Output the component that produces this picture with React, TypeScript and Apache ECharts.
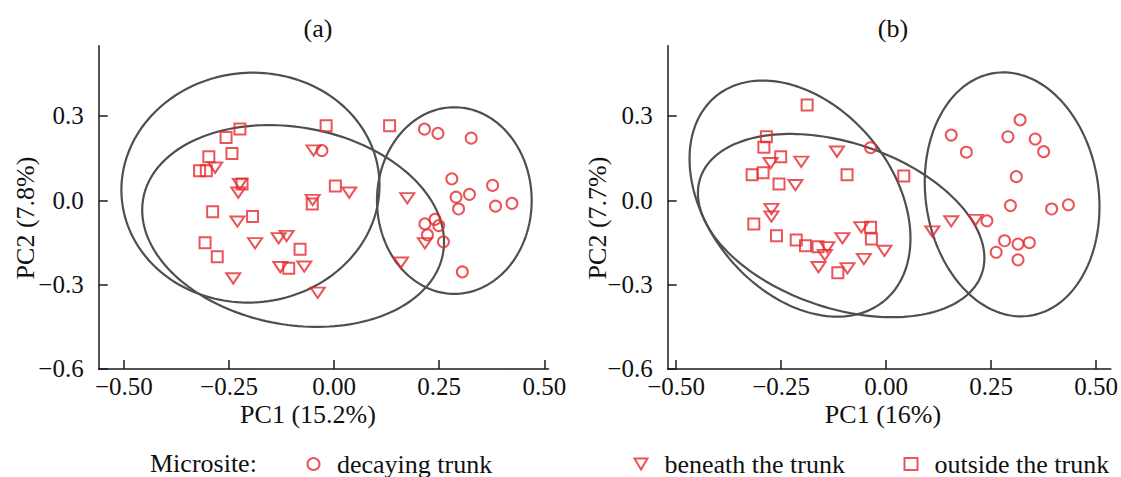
import React, { useEffect, useRef } from 'react';
import * as echarts from 'echarts';

const FONT = 'Liberation Serif';
const RED = '#e42b30';
const ELLIPSE_COLOR = '#4f4f4f';
const TRI_DOWN = 'path://M0,0L14,0L7,12Z';

const seriesNames = ['decaying trunk', 'beneath the trunk', 'outside the trunk'];
const panelTitles = ['(a)', '(b)'];
const xNames = ['PC1 (15.2%)', 'PC1 (16%)'];
const yNames = ['PC2 (7.8%)', 'PC2 (7.7%)'];
const xTicks = [-0.5, -0.25, 0, 0.25, 0.5];
const yTicks = [-0.6, -0.3, 0, 0.3];
const xRanges = [[-0.56, 0.51], [-0.52, 0.535]];
const yRange = [-0.6, 0.55];

// panel (a)
const aDecaying = [[-0.029,0.177],[0.215,0.253],[0.247,0.238],[0.326,0.221],[0.280,0.076],[0.377,0.053],[0.290,0.011],[0.322,0.021],[0.296,-0.031],[0.384,-0.021],[0.423,-0.011],[0.216,-0.084],[0.240,-0.068],[0.249,-0.090],[0.222,-0.123],[0.260,-0.148],[0.305,-0.255]];
const aBeneath = [[-0.283,0.116],[-0.224,0.058],[-0.228,0.027],[-0.049,0.177],[-0.051,0.001],[0.036,0.027],[-0.230,-0.076],[-0.188,-0.153],[-0.132,-0.135],[-0.113,-0.127],[-0.240,-0.278],[-0.128,-0.238],[-0.071,-0.236],[-0.039,-0.329],[0.174,0.007],[0.216,-0.153],[0.159,-0.222]];
const aOutside = [[-0.224,0.254],[-0.257,0.223],[-0.243,0.166],[-0.298,0.155],[-0.320,0.105],[-0.304,0.105],[-0.219,0.058],[-0.019,0.265],[0.003,0.051],[0.132,0.265],[-0.052,-0.013],[-0.289,-0.041],[-0.194,-0.058],[-0.307,-0.151],[-0.278,-0.201],[-0.081,-0.174],[-0.108,-0.242]];
// ellipses: [centerX, centerY, halfWidthX, halfHeightY, correlation]
const aEllipses = [[-0.199,0.045,0.307,0.409,0.02],[-0.0975,-0.0915,0.359,0.359,-0.158],[0.286,-0.001,0.184,0.332,0]];

// panel (b)
const bDecaying = [[-0.037,0.187],[0.155,0.232],[0.191,0.171],[0.319,0.286],[0.290,0.226],[0.355,0.218],[0.375,0.173],[0.310,0.084],[0.296,-0.019],[0.394,-0.031],[0.434,-0.016],[0.240,-0.073],[0.282,-0.144],[0.314,-0.156],[0.341,-0.151],[0.262,-0.185],[0.314,-0.212]];
const bBeneath = [[-0.275,0.132],[-0.202,0.137],[-0.117,0.173],[-0.216,0.054],[-0.273,-0.031],[-0.273,-0.058],[-0.140,-0.167],[-0.146,-0.195],[-0.161,-0.238],[-0.104,-0.135],[-0.059,-0.096],[-0.053,-0.209],[-0.092,-0.242],[-0.004,-0.180],[0.110,-0.111],[0.155,-0.075],[0.213,-0.070]];
const bOutside = [[-0.188,0.339],[-0.285,0.226],[-0.291,0.189],[-0.251,0.155],[-0.319,0.091],[-0.293,0.098],[-0.255,0.058],[-0.093,0.091],[0.042,0.086],[-0.315,-0.084],[-0.261,-0.126],[-0.214,-0.141],[-0.192,-0.162],[-0.162,-0.165],[-0.037,-0.096],[-0.035,-0.138],[-0.115,-0.258]];
const bEllipses = [[-0.205,0.006,0.263,0.420,-0.337],[-0.107,-0.090,0.341,0.326,-0.355],[0.300,0.021,0.208,0.434,-0.10]];

const fmt = (v: number, d: number) => (v < -1e-9 ? '\u2212' : '') + Math.abs(v).toFixed(d);

function ellipseItem(params: any, api: any) {
  const cx = api.value(0), cy = api.value(1), sx = api.value(2), sy = api.value(3), r = api.value(4);
  const k = Math.sqrt(1 - r * r);
  const pts: number[][] = [];
  const n = 180;
  for (let i = 0; i < n; i++) {
    const t = (i / n) * Math.PI * 2;
    pts.push(api.coord([cx + sx * Math.cos(t), cy + sy * (r * Math.cos(t) + k * Math.sin(t))]));
  }
  return { type: 'polygon', shape: { points: pts }, style: { fill: 'none', stroke: ELLIPSE_COLOR, lineWidth: 2.2 } };
}

export default function App() {
  const ref = useRef<HTMLDivElement>(null);
  useEffect(() => {
    if (!ref.current) return;
    const chart = echarts.init(ref.current, undefined, { renderer: 'svg' });
    const grids = [
      { left: 98.7, top: 45.7, width: 449.8, height: 323.2 },
      { left: 667.7, top: 45.7, width: 443.4, height: 323.2 },
    ];
    const axisLineStyle = { color: '#1a1a1a', width: 1.5 };
    const xAxis = [0, 1].map((i) => ({
      type: 'value', gridIndex: i, min: xRanges[i][0], max: xRanges[i][1],
      axisLine: { show: true, onZero: false, lineStyle: axisLineStyle },
      axisTick: { show: true, inside: true, length: 9, lineStyle: axisLineStyle, customValues: xTicks },
      axisLabel: { customValues: xTicks, formatter: (v: number) => fmt(v, 2), margin: 8, fontFamily: FONT, fontSize: 25, lineHeight: 20, color: '#111' },
      splitLine: { show: false },
    }));
    const yAxis = [0, 1].map((i) => ({
      type: 'value', gridIndex: i, min: yRange[0], max: yRange[1],
      axisLine: { show: true, onZero: false, lineStyle: axisLineStyle },
      axisTick: { show: true, inside: true, length: 9, lineStyle: axisLineStyle, customValues: yTicks },
      axisLabel: { customValues: yTicks, formatter: (v: number) => fmt(v, 1), margin: 15, fontFamily: FONT, fontSize: 25, color: '#111' },
      splitLine: { show: false },
    }));
    const markerStyle = { color: 'rgba(255,255,255,0)', borderColor: RED, borderWidth: 2 };
    const panels = [
      { pts: [aDecaying, aBeneath, aOutside], ell: aEllipses },
      { pts: [bDecaying, bBeneath, bOutside], ell: bEllipses },
    ];
    const series: any[] = [];
    panels.forEach((p, i) => {
      series.push({
        type: 'custom', xAxisIndex: i, yAxisIndex: i, silent: true, z: 1,
        renderItem: ellipseItem, data: p.ell, encode: { x: 0, y: 1 },
      });
      series.push({ name: seriesNames[0], type: 'scatter', xAxisIndex: i, yAxisIndex: i, z: 3, symbol: 'circle', symbolSize: 11, itemStyle: markerStyle, data: p.pts[0] });
      series.push({ name: seriesNames[1], type: 'scatter', xAxisIndex: i, yAxisIndex: i, z: 3, symbol: TRI_DOWN, symbolKeepAspect: true, symbolSize: [14, 12], itemStyle: markerStyle, data: p.pts[1] });
      series.push({ name: seriesNames[2], type: 'scatter', xAxisIndex: i, yAxisIndex: i, z: 3, symbol: 'rect', symbolSize: 11, itemStyle: markerStyle, data: p.pts[2] });
    });
    const legendBase = {
      orient: 'horizontal', top: 451, padding: 0, itemWidth: 13, itemHeight: 12, selectedMode: false,
      textStyle: { fontFamily: FONT, fontSize: 26, color: '#111', padding: [0, 0, 0, 12] },
    };
    const txt = (text: string, x: number, y: number, extra: any = {}) => ({
      type: 'text', x, y, silent: true,
      style: { text, fontFamily: FONT, fontSize: 26, lineHeight: 22, fill: '#111', align: 'center', verticalAlign: 'middle' },
      ...extra,
    });
    chart.setOption({
      animation: false,
      backgroundColor: '#fff',
      grid: grids,
      xAxis, yAxis, series,
      legend: [
        { ...legendBase, left: 306.5, data: [seriesNames[0]] },
        { ...legendBase, left: 633.5, data: [{ name: seriesNames[1], icon: TRI_DOWN }] },
        { ...legendBase, left: 903.5, data: [seriesNames[2]] },
      ],
      graphic: [
        txt(panelTitles[0], 318, 28),
        txt(panelTitles[1], 893, 28),
        txt(xNames[0], 308, 414),
        txt(xNames[1], 883, 414),
        txt(yNames[0], 25, 218, { rotation: Math.PI / 2 }),
        txt(yNames[1], 597, 218, { rotation: Math.PI / 2 }),
        { type: 'text', x: 150, y: 463, silent: true, style: { text: 'Microsite:', fontFamily: FONT, fontSize: 26, fill: '#111', align: 'left', verticalAlign: 'middle' } },
      ],
    });
    return () => chart.dispose();
  }, []);
  return <div ref={ref} style={{ position: 'absolute', left: 0, top: 0, width: 1121, height: 477 }} />;
}
